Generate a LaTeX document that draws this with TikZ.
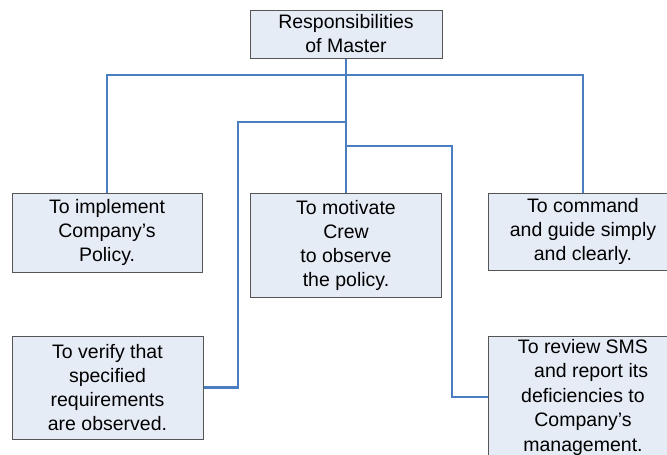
\documentclass[tikz,border=0pt]{standalone}
\usepackage{fontspec}
\setmainfont{Liberation Sans}
\definecolor{lineblue}{RGB}{74,126,193}
\definecolor{boxfill}{RGB}{230,236,246}
\definecolor{boxline}{RGB}{85,85,85}
\begin{document}
\begin{tikzpicture}[x=1pt,y=-1pt,
  box/.style={draw=boxline, line width=1pt, fill=boxfill, inner sep=0pt, align=center,
    font=\fontsize{19.5}{24}\selectfont},
  bigbox/.style={box, font=\fontsize{19.5}{24.5}\selectfont},
  link/.style={draw=lineblue, line width=2.5pt}]
\useasboundingbox (0,0) rectangle (667,455);
\clip (0,0) rectangle (667,455);
\fill[white] (0,0) rectangle (667,455);
\node[box, minimum width=192pt, minimum height=48pt] (top) at (346,34) {Responsibilities\\of Master};
\node[box, minimum width=190pt, minimum height=79pt] (left) at (107,232.5) {To implement\\Company’s\\Policy.};
\node[box, minimum width=191pt, minimum height=104pt] (mid) at (346,245) {To motivate\\Crew\\to observe\\the policy.};
\node[box, minimum width=190pt, minimum height=77pt] (right) at (583,231.5) {To command\\and guide simply\\and clearly.};
\node[box, minimum width=191pt, minimum height=103pt] (lb) at (107.5,387.5) {To verify that\\specified\\requirements\\are observed.};
\node[bigbox, minimum width=190pt, minimum height=122pt] (rb) at (583,397) {To review SMS\\\ \ \ and report its\\deficiencies to\\Company’s\\management.};
\coordinate (bar) at (346,75);
\coordinate (lbr) at (346,122);
\coordinate (lk) at (238,122);
\coordinate (rbr) at (346,146);
\coordinate (rk) at (452,146);
\draw[link] (top.south) -- (mid.north);
\draw[link] (left.north) -- (left.north |- bar) -- (right.north |- bar) -- (right.north);
\draw[link] (lbr) -- (lk) |- (lb.east);
\draw[link] (rbr) -- (rk) |- (rb.west);
\end{tikzpicture}
\end{document}
